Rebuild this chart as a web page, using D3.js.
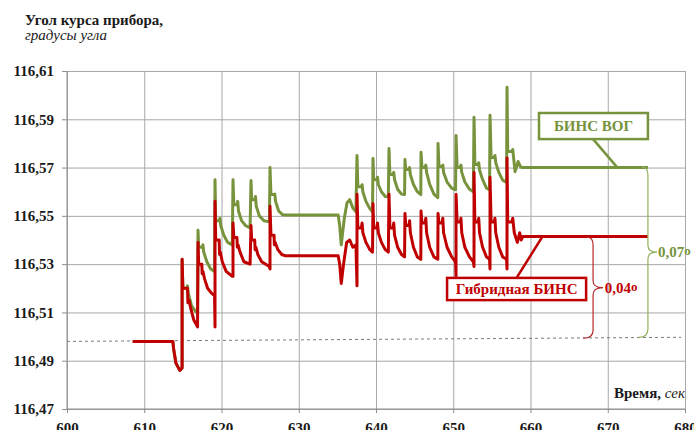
<!DOCTYPE html>
<html lang="ru">
<head>
    <meta charset="UTF-8">
    <title>Угол курса прибора</title>

<style>

body {
  margin: 0;
  background: #fff;
}

svg text {
  font-family: 'Liberation Serif', 'Tinos', 'Times New Roman', 'Nimbus Roman', 'DejaVu Serif', serif;
  font-size: 15px;
  font-weight: bold;
}

.grid line {
  stroke: #a8a8a8;
  stroke-width: 1;
}

.grid path {
  display: none;
}

.axis path,
.axis line {
  stroke: #8c8c8c;
}

.axis text {
  fill: #1a1a1a;
}

.series {
  fill: none;
  stroke-width: 3;
  stroke-linejoin: round;
}

</style>

</head>
<body>

<svg width="694" height="430"></svg>

<script src="https://d3js.org/d3.v7.min.js"></script>
<script>

// ticks
var xTicks = [600, 610, 620, 630, 640, 650, 660, 670, 680];
var yTicks = [116.47, 116.49, 116.51, 116.53, 116.55, 116.57, 116.59, 116.61];

// [time, sec ; heading, deg]
var gybridSeries = [
    [608.5,116.498],[613.7,116.498],[613.8,116.495],[614.1,116.489],[614.6,116.486],[614.9,116.487],
    [614.9,116.532],[615.0,116.520],[615.6,116.520],[615.65,116.514],[615.8,116.515],[616.0,116.512],[616.4,116.507],[616.9,116.504],
    [616.96,116.539],[617.05,116.530],[617.45,116.530],[617.5,116.526],[617.6,116.527],[617.8,116.524],[618.2,116.520],[618.7,116.518],[619.1,116.517],
    [619.16,116.504],[619.16,116.556],[619.25,116.540],[619.7,116.540],[619.75,116.534],[619.85,116.535],[620.1,116.531],[620.6,116.527],[621.4,116.525],
    [621.49,116.525],[621.49,116.547],[621.6,116.541],[622.0,116.541],[622.05,116.537],[622.15,116.538],[622.4,116.535],[622.9,116.531],[623.7,116.530],
    [623.82,116.546],[623.9,116.540],[624.3,116.540],[624.35,116.536],[624.45,116.537],[624.7,116.534],[625.2,116.531],[626.2,116.529],
    [626.28,116.528],[626.28,116.554],[626.4,116.542],[626.8,116.542],[626.85,116.538],[626.95,116.539],[627.3,116.536],[627.8,116.534],[628.2,116.5335],
    [635.1,116.5335],[635.3,116.530],[635.5,116.522],[635.8,116.530],[636.2,116.539],[636.6,116.540],[637.0,116.537],[637.4,116.538],[637.54,116.521],
    [637.54,116.559],[637.65,116.545],[638.1,116.545],[638.2,116.547],[638.3,116.543],[638.7,116.539],[639.2,116.536],[639.55,116.535],
    [639.61,116.555],[639.7,116.545],[640.1,116.545],[640.2,116.547],[640.3,116.543],[640.7,116.539],[641.2,116.536],[641.6,116.535],
    [641.68,116.559],[641.8,116.545],[642.2,116.545],[642.3,116.547],[642.4,116.542],[642.8,116.537],[643.3,116.534],[643.7,116.533],
    [643.75,116.551],[643.85,116.546],[644.25,116.546],[644.35,116.548],[644.45,116.543],[644.85,116.537],[645.35,116.533],[645.8,116.532],
    [645.83,116.552],[645.95,116.547],[646.35,116.547],[646.45,116.549],[646.55,116.543],[646.95,116.537],[647.5,116.533],[648.0,116.532],
    [648.03,116.551],[648.15,116.547],[648.55,116.547],[648.65,116.549],[648.75,116.543],[649.2,116.537],[649.8,116.533],[650.3,116.531],
    [650.36,116.525],[650.36,116.559],[650.5,116.5475],[650.9,116.5475],[651.0,116.549],[651.1,116.543],[651.5,116.537],[652.1,116.533],[652.6,116.531],
    [652.69,116.529],[652.69,116.568],[652.8,116.5475],[653.2,116.5475],[653.3,116.549],[653.4,116.543],[653.8,116.537],[654.3,116.533],[654.7,116.532],
    [654.76,116.528],[654.76,116.566],[654.9,116.5475],[655.3,116.5475],[655.4,116.549],[655.5,116.543],[655.9,116.537],[656.4,116.533],[656.9,116.532],
    [656.96,116.528],[656.96,116.574],[657.05,116.5475],[657.6,116.5475],[657.7,116.549],[657.9,116.543],[658.3,116.539],[658.6,116.543],[658.8,116.540],[659.0,116.5414],[675.2,116.5414]
];

var vogSeries = [
    [608.5,116.498],[613.7,116.498],[613.8,116.495],[614.1,116.489],[614.6,116.486],[614.9,116.487],
    [614.9,116.532],[615.0,116.520],[615.5,116.520],[615.6,116.521],[615.7,116.518],[616.1,116.513],[616.5,116.511],[616.9,116.5096],
    [616.96,116.544],[617.05,116.537],[617.5,116.537],[617.6,116.538],[617.7,116.535],[618.1,116.531],[618.6,116.528],[619.1,116.527],
    [619.16,116.565],[619.25,116.548],[619.7,116.548],[619.8,116.549],[619.9,116.546],[620.3,116.542],[620.8,116.539],[621.4,116.538],
    [621.49,116.565],[621.6,116.5546],[622.0,116.5546],[622.1,116.556],[622.2,116.552],[622.6,116.548],[623.1,116.546],[623.7,116.545],
    [623.82,116.5646],[623.9,116.5567],[624.3,116.5567],[624.4,116.558],[624.5,116.554],[624.9,116.550],[625.5,116.548],[626.2,116.5475],
    [626.28,116.570],[626.4,116.5588],[626.8,116.5588],[626.9,116.559],[627.0,116.556],[627.4,116.552],[627.9,116.5505],[628.2,116.5504],
    [635.1,116.5504],[635.3,116.546],[635.5,116.538],[635.9,116.549],[636.25,116.5554],[636.6,116.5567],[637.0,116.5533],[637.4,116.5517],
    [637.54,116.575],[637.65,116.5621],[638.1,116.5621],[638.2,116.5629],[638.3,116.560],[638.7,116.556],[639.2,116.553],[639.55,116.5517],
    [639.61,116.5738],[639.7,116.565],[640.1,116.565],[640.2,116.566],[640.3,116.563],[640.7,116.560],[641.2,116.558],[641.6,116.5579],
    [641.68,116.5779],[641.8,116.5671],[642.2,116.5671],[642.3,116.568],[642.4,116.565],[642.8,116.561],[643.3,116.559],[643.7,116.5588],
    [643.75,116.5733],[643.85,116.5692],[644.25,116.5692],[644.35,116.570],[644.45,116.567],[644.85,116.563],[645.35,116.560],[645.8,116.5588],
    [645.83,116.5763],[645.95,116.570],[646.35,116.570],[646.45,116.571],[646.55,116.568],[646.95,116.563],[647.5,116.559],[648.0,116.5575],
    [648.03,116.580],[648.15,116.5704],[648.55,116.5704],[648.65,116.571],[648.75,116.568],[649.2,116.564],[649.8,116.5615],[650.3,116.5608],
    [650.36,116.5833],[650.5,116.570],[650.9,116.570],[651.0,116.571],[651.1,116.568],[651.5,116.564],[652.1,116.561],[652.6,116.560],
    [652.69,116.5908],[652.8,116.5713],[653.2,116.5713],[653.3,116.572],[653.4,116.569],[653.8,116.565],[654.3,116.5615],[654.7,116.5608],
    [654.76,116.5917],[654.9,116.5742],[655.3,116.5742],[655.4,116.575],[655.5,116.572],[655.9,116.568],[656.4,116.5648],[656.9,116.5638],
    [656.96,116.6033],[657.05,116.5767],[657.6,116.5767],[657.7,116.5775],[658.0,116.5683],[658.4,116.5725],[658.7,116.5704],[658.9,116.570],[675.2,116.570]
];

// reference level before the manoeuvre
var baseLine = [[600, 116.498], [679.5, 116.4997]];

var svg = d3.select('svg');

var margin = {
    top: 71,
    right: 9,
    bottom: 21,
    left: 67
}

var width = +svg.attr('width') - margin.left - margin.right;
var height = +svg.attr('height') - margin.top - margin.bottom;

var x = d3.scaleLinear().domain([600, 680]).range([0, width]);
var y = d3.scaleLinear().domain([116.47, 116.61]).range([height, 0]);

var fmt = function(d) { return d3.format('.2f')(d).replace('.', ','); };

var group = svg.append('g')
    .attr('transform', 'translate(' + margin.left + ',' + margin.top + ')');

/*------------------------------------*\
  GRID
\*------------------------------------*/
group.append('g')
    .attr('class', 'grid')
    .call(d3.axisLeft(y).tickValues(yTicks).tickSize(-width).tickFormat(''));

group.append('g')
    .attr('class', 'grid')
    .call(d3.axisBottom(x).tickValues(xTicks).tickSize(height).tickFormat(''));

/*------------------------------------*\
  AXIS
\*------------------------------------*/
group.append('g')
    .attr('class', 'axis')
    .call(d3.axisLeft(y).tickValues(yTicks).tickSize(5).tickPadding(8).tickFormat(fmt))
    .call(g => g.select('.domain').attr('d', `M0,0V${height}`));

group.append('g')
    .attr('class', 'axis')
    .attr('transform', `translate(0, ${height})`)
    .call(d3.axisBottom(x).tickValues(xTicks).tickSize(4).tickPadding(9).tickFormat(d3.format('d')))
    .call(g => g.select('.domain').attr('d', `M0,0H${width}`));

// dashed base level
var line = d3.line()
    .x(function(d) { return x(d[0]); })
    .y(function(d) { return y(d[1]); });

group.append('path')
    .datum(baseLine)
    .attr('d', line)
    .attr('fill', 'none')
    .attr('stroke', '#7a7a7a')
    .attr('stroke-width', 1)
    .attr('stroke-dasharray', '3,3');

/*------------------------------------*\
  SERIES
\*------------------------------------*/
group.append('path')
    .datum(vogSeries)
    .attr('class', 'series')
    .attr('stroke', '#77933c')
    .attr('d', line);

group.append('path')
    .datum(gybridSeries)
    .attr('class', 'series')
    .attr('stroke', '#c00000')
    .attr('d', line);

/*------------------------------------*\
  LEGEND BOXES
\*------------------------------------*/
function callout(t0, t1, v0, v1, label, color, from, to) {
    group.append('line')
        .attr('x1', x(from[0])).attr('y1', y(from[1]))
        .attr('x2', x(to[0])).attr('y2', y(to[1]))
        .attr('stroke', color)
        .attr('stroke-width', 2.5);

    group.append('rect')
        .attr('x', x(t0))
        .attr('y', y(v0))
        .attr('width', x(t1) - x(t0))
        .attr('height', y(v1) - y(v0))
        .attr('fill', '#fff')
        .attr('stroke', color)
        .attr('stroke-width', 2.5);

    group.append('text')
        .attr('x', (x(t0) + x(t1)) / 2)
        .attr('y', (y(v0) + y(v1)) / 2 + 5)
        .attr('text-anchor', 'middle')
        .attr('fill', color)
        .text(label);
}

callout(661.1, 675.2, 116.5926, 116.5818, 'БИНС ВОГ', '#77933c', [668.1, 116.5818], [671.2, 116.5702]);
callout(649.2, 667.2, 116.5243, 116.5151, 'Гибридная БИНС', '#c00000', [658.2, 116.5243], [661.5, 116.5412]);

/*------------------------------------*\
  BRACES
\*------------------------------------*/
function brace(xs, xTip, vTop, vBot, xEnd, color) {
    var x0 = x(xs), xt = x(xTip), xe = x(xEnd);
    var y0 = y(vTop), y1 = y(vBot), ym = (y0 + y1) / 2;
    var p = d3.path();
    p.moveTo(x0 - 6, y0);
    p.quadraticCurveTo(x0, y0, x0, y0 + 8);
    p.lineTo(x0, ym - 7);
    p.quadraticCurveTo(x0, ym, xt, ym);
    p.quadraticCurveTo(x0, ym, x0, ym + 7);
    p.lineTo(x0, y1 - 8);
    p.quadraticCurveTo(x0, y1, xe, y1);
    group.append('path')
        .attr('d', p.toString())
        .attr('fill', 'none')
        .attr('stroke', color)
        .attr('stroke-width', 1.2);
    return ym;
}

var ymG = brace(675.2, 676.4, 116.5702, 116.4997, 674.0, '#93b05f');
var ymR = brace(668.1, 669.4, 116.5412, 116.4993, 666.8, '#b52a2a');

function gap(tx, ym, label, color) {
    var t = group.append('text')
        .attr('x', x(tx))
        .attr('y', ym + 5)
        .attr('fill', color)
        .text(label);
    t.append('tspan')
        .attr('font-size', '13px')
        .attr('dy', -2)
        .text('o');
}

gap(676.5, ymG, '0,07', '#77933c');
gap(669.6, ymR, '0,04', '#c00000');

/*------------------------------------*\
  TITLES
\*------------------------------------*/
svg.append('text')
    .attr('x', 25)
    .attr('y', 25)
    .attr('fill', '#1a1a1a')
    .text('Угол курса прибора,');

svg.append('text')
    .attr('x', 25)
    .attr('y', 40)
    .attr('fill', '#1a1a1a')
    .style('font-weight', 'normal')
    .style('font-style', 'italic')
    .text('градусы угла');

var xTitle = svg.append('text')
    .attr('x', 685)
    .attr('y', 398)
    .attr('text-anchor', 'end')
    .attr('fill', '#1a1a1a')
    .text('Время, ');

xTitle.append('tspan')
    .style('font-style', 'italic')
    .style('font-weight', 'normal')
    .text('сек');

</script>

</body>
</html>
